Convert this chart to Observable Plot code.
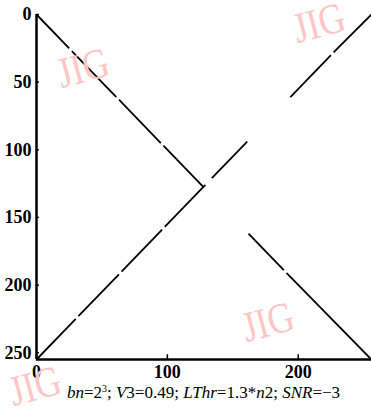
<!DOCTYPE html>
<html>
<head>
<meta charset="utf-8">
<script src="https://cdn.jsdelivr.net/npm/d3@7"></script>
<script src="https://cdn.jsdelivr.net/npm/@observablehq/plot@0.6"></script>
<style>
  html, body { margin: 0; padding: 0; background: #fff; }
  #wrap { position: relative; width: 371px; height: 410px; overflow: hidden; }
  #caption { position: absolute; left: 36px; width: 335px; top: 385px; text-align: center;
    font-family: "Liberation Serif", "Times New Roman", serif; font-size: 17px; line-height: 16px; color: #000; }
  #caption sup { font-size: 10px; vertical-align: 6px; line-height: 0; }
  .wm { position: absolute; font-family: "Liberation Serif", "Times New Roman", serif; font-size: 43px; line-height: 26px; color: #ffc6c6;
    transform: translate(-50%, -50%) rotate(-15deg) scaleX(0.84); white-space: nowrap; pointer-events: none; }
  svg text { font-family: "Liberation Serif", "Times New Roman", serif; }
</style>
</head>
<body>
<div id="wrap"></div>
<script>
// Line A (top-left to bottom-right) — detected segments
const aX1 = [0, 27, 63, 97, 162, 191];
const aY1 = [0, 27, 63, 97, 162, 191];
const aX2 = [25, 61, 95, 128, 189, 256];
const aY2 = [25, 61, 95, 128, 189, 255];
// Line B (bottom-left to top-right) — detected segments
const bX1 = [0, 32, 65, 98, 134, 194, 227];
const bY1 = [255, 223, 190, 157, 121, 61, 28];
const bX2 = [30, 63, 96, 129, 161, 225, 256];
const bY2 = [225, 192, 159, 126, 94, 30, 0];

const yTicks = [0, 50, 100, 150, 200, 250];
const xTicks = [0, 100, 200];

const segA = aX1.map((d, i) => ({x1: d, y1: aY1[i], x2: aX2[i], y2: aY2[i]}));
const segB = bX1.map((d, i) => ({x1: d, y1: bY1[i], x2: bX2[i], y2: bY2[i]}));

const font = "'Liberation Serif', 'Times New Roman', serif";

const chart = Plot.plot({
  width: 371,
  height: 384,
  marginLeft: 36,
  marginRight: 0,
  marginTop: 14,
  marginBottom: 25,
  style: {fontFamily: font, fontSize: "18px", color: "#000", background: "#fff"},
  x: {domain: [0, 256]},
  y: {domain: [0, 255], reverse: true},
  marks: [
    Plot.axisY(yTicks, {tickSize: 0, tickPadding: 5, fontSize: 18, fontWeight: "bold", label: null}),
    Plot.axisX(xTicks, {tickSize: 0, tickPadding: 6, fontSize: 18, fontWeight: "bold", label: null}),
    Plot.ruleY(yTicks, {x1: 0, x2: 2.2, stroke: "#000", strokeWidth: 1.5}),
    Plot.ruleX(xTicks, {y1: 255, y2: 251.5, stroke: "#000", strokeWidth: 1.5}),
    Plot.link(segA, {x1: "x1", y1: "y1", x2: "x2", y2: "y2", stroke: "#000", strokeWidth: 1.8}),
    Plot.link(segB, {x1: "x1", y1: "y1", x2: "x2", y2: "y2", stroke: "#000", strokeWidth: 1.8}),
    Plot.ruleX([0], {y1: 0, y2: 255, stroke: "#000", strokeWidth: 2.5}),
    Plot.ruleY([255], {x1: 0, x2: 256, stroke: "#000", strokeWidth: 2.5})
  ]
});

const wrap = document.getElementById("wrap");
wrap.appendChild(chart);

const cap = document.createElement("div");
cap.id = "caption";
cap.innerHTML = "<i>bn</i>=2<sup>3</sup>; <i>V</i>3=0.49; <i>LThr</i>=1.3*<i>n</i>2; <i>SNR</i>=\u22123";
wrap.appendChild(cap);

// watermark text
const marks = [[83, 68], [319, 23], [268, 322], [35, 386]];
marks.forEach(([l, t]) => {
  const w = document.createElement("div");
  w.className = "wm";
  w.textContent = "JIG";
  w.style.left = l + "px";
  w.style.top = t + "px";
  wrap.appendChild(w);
});
</script>
</body>
</html>
